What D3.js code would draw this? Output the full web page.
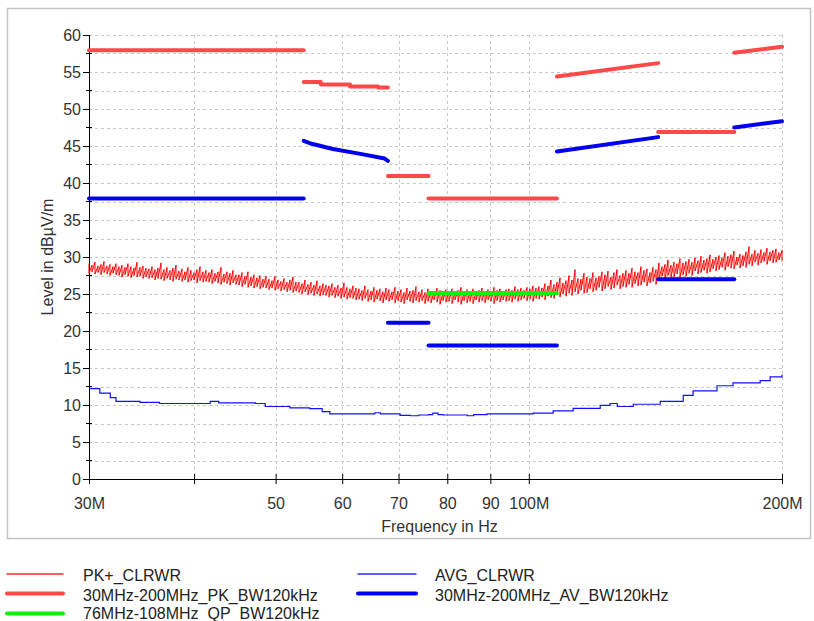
<!DOCTYPE html>
<html>
<head>
<meta charset="utf-8">
<script src="https://cdn.jsdelivr.net/npm/d3@7"></script>
<style>
  html, body { margin: 0; padding: 0; background: #ffffff; }
  svg { display: block; font-family: "Liberation Sans", Arial, sans-serif; }
</style>
</head>
<body>
<svg id="chart" width="814" height="621"></svg>
<script>
// ---------------- DATA ----------------
const xTickValues = [30, 40, 50, 60, 70, 80, 90, 100, 200];
const xTickLabels = ["30M", "", "50", "60", "70", "80", "90", "100M", "200M"];
const xGridValues = [40, 50, 60, 70, 80, 90, 100, 200];
const yTickValues = [0, 5, 10, 15, 20, 25, 30, 35, 40, 45, 50, 55, 60];
const yMinorValues = [2.5, 7.5, 12.5, 17.5, 22.5, 27.5, 32.5, 37.5, 42.5, 47.5, 52.5, 57.5];

// PK+_CLRWR sweep (30 MHz .. 200 MHz, log stepped display columns):
// max and min level (dBµV/m) seen in each column
const sweepStart = 30, sweepStop = 200;
const pkTraceHigh = [
  29.1, 28.9, 29.3, 28.8, 29.0, 29.4, 28.8, 29.0, 28.7, 29.1,
  28.7, 28.9, 28.6, 29.1, 28.7, 28.5, 29.3, 28.6, 28.8, 28.5,
  28.4, 28.7, 28.3, 28.5, 29.2, 28.3, 28.6, 28.2, 28.5, 28.9,
  28.1, 28.4, 28.0, 28.6, 28.2, 27.9, 28.3, 28.7, 28.0, 28.2,
  27.9, 28.3, 27.8, 28.0, 28.6, 27.7, 28.0, 27.8, 28.2, 27.6,
  27.6, 27.9, 27.4, 28.0, 27.3, 27.6, 27.2, 27.5, 27.0, 27.4,
  27.0, 26.8, 27.4, 26.9, 26.7, 27.1, 26.6, 26.9, 27.3, 26.6,
  26.6, 26.4, 26.9, 26.3, 26.6, 26.2, 26.8, 26.1, 26.4, 26.2,
  26.1, 26.4, 25.9, 26.2, 25.8, 26.5, 25.9, 25.7, 26.1, 25.8,
  25.7, 25.5, 26.1, 25.6, 25.4, 25.9, 25.5, 25.7, 25.3, 25.8,
  25.6, 25.3, 25.9, 25.4, 25.6, 25.2, 25.8, 25.4, 25.5, 26.0,
  25.3, 25.6, 25.2, 25.7, 25.4, 25.3, 25.8, 25.5, 25.2, 25.6,
  25.4, 25.7, 25.3, 25.5, 25.9, 25.2, 25.6, 25.4, 25.7, 25.3,
  25.5, 25.8, 25.4, 25.6, 25.3, 25.9, 25.5, 25.7, 25.4, 25.6,
  25.7, 25.5, 26.0, 25.6, 25.8, 25.5, 25.9, 25.7, 26.1, 25.8,
  26.0, 25.8, 26.4, 26.1, 26.9, 26.3, 26.6, 27.2, 26.5, 26.8,
  27.5, 26.9, 28.3, 27.1, 27.0, 27.8, 27.3, 27.1, 27.9, 27.2,
  27.4, 28.0, 27.6, 28.1, 27.3, 27.9, 28.3, 27.5, 27.8, 28.2,
  27.8, 28.5, 28.0, 27.9, 28.7, 28.2, 28.4, 27.9, 28.6, 28.3,
  29.2, 28.7, 29.0, 29.6, 28.9, 29.3, 29.1, 29.8, 29.2, 29.4,
  29.7, 29.3, 29.9, 29.5, 30.1, 29.6, 29.8, 30.3, 29.7, 30.0,
  30.2, 29.9, 30.6, 30.1, 30.3, 30.8, 30.0, 30.4, 30.2, 30.7,
  31.4, 30.4, 30.9, 30.5, 31.0, 30.6, 31.2, 30.7, 30.9, 31.1, 30.6, 30.9
];
const pkTraceLow = [
  27.8, 28.0, 27.7, 27.9, 27.6, 27.9, 27.7, 27.5, 27.8, 27.6,
  27.5, 27.3, 27.6, 27.4, 27.2, 27.5, 27.3, 27.4, 27.1, 27.3,
  27.1, 27.2, 26.9, 27.1, 27.0, 26.8, 27.1, 26.9, 26.7, 27.0,
  26.9, 26.7, 26.9, 26.6, 26.8, 26.9, 26.5, 26.8, 26.6, 26.7,
  26.6, 26.4, 26.7, 26.5, 26.3, 26.6, 26.4, 26.2, 26.5, 26.3,
  26.2, 26.0, 26.3, 25.9, 26.1, 25.8, 26.0, 25.7, 25.9, 25.8,
  25.6, 25.8, 25.5, 25.7, 25.4, 25.6, 25.3, 25.5, 25.2, 25.4,
  25.2, 25.0, 25.3, 24.9, 25.1, 24.8, 25.0, 24.7, 24.9, 24.8,
  24.6, 24.8, 24.5, 24.7, 24.4, 24.6, 24.3, 24.5, 24.4, 24.2,
  24.3, 24.1, 24.4, 24.0, 24.2, 23.9, 24.3, 24.1, 23.8, 24.2,
  24.0, 24.2, 23.8, 24.1, 23.9, 23.7, 24.2, 24.0, 23.8, 24.1,
  23.9, 24.1, 23.7, 24.0, 23.8, 24.2, 23.9, 23.6, 24.1, 23.9,
  24.0, 23.7, 24.2, 23.9, 23.6, 24.1, 23.8, 24.0, 23.7, 24.2,
  23.9, 24.1, 23.8, 24.2, 24.0, 23.7, 24.1, 23.9, 24.2, 24.0,
  24.1, 23.9, 24.3, 24.0, 24.2, 24.4, 24.1, 24.3, 24.0, 24.4,
  24.3, 24.6, 24.2, 24.7, 24.5, 24.4, 24.9, 24.6, 25.0, 24.7,
  25.1, 24.8, 25.3, 25.0, 25.5, 25.1, 25.2, 25.7, 25.3, 25.5,
  25.9, 25.4, 25.7, 26.0, 25.6, 25.8, 26.2, 25.7, 26.0, 25.9,
  26.3, 25.9, 26.4, 26.1, 26.2, 26.6, 26.1, 26.5, 26.7, 26.3,
  27.1, 27.4, 26.9, 27.5, 27.2, 27.3, 27.7, 27.2, 27.6, 27.4,
  27.8, 27.5, 28.1, 27.7, 27.9, 28.2, 27.8, 28.0, 28.4, 28.1,
  28.3, 28.6, 28.2, 28.7, 28.5, 28.4, 28.9, 28.5, 28.8, 28.6,
  29.0, 28.8, 29.3, 28.9, 29.2, 29.4, 29.0, 29.5, 29.2, 29.3, 29.6, 29.4
];

// AVG_CLRWR (stepped trace)
const avgFreqs = [30, 30.9, 31.8, 32.3, 34.5, 36.4, 40.1, 41.8, 42.8, 44.1, 47.3, 48.6, 52.0, 54.9, 56.8,
  58.0, 65.6, 66.6, 68.4, 70.3, 72.3, 74.0, 76.0, 76.9, 78.0, 79.1, 84.5, 86.0, 89.2, 101.2, 106.9,
  112.9, 121.6, 124.9, 127.4, 133.1, 143.3, 152.6, 156.8, 167.4, 174.9, 188.4, 193.6, 200];
const avgValues = [12.2, 11.6, 11.0, 10.5, 10.35, 10.2, 10.2, 10.5, 10.3, 10.3, 10.2, 9.8, 9.6, 9.5, 9.1,
  8.8, 8.95, 8.8, 8.8, 8.6, 8.55, 8.65, 8.7, 8.9, 8.7, 8.65, 8.55, 8.7, 8.8, 8.9, 9.2,
  9.55, 9.95, 10.2, 9.8, 10.1, 10.5, 11.3, 11.9, 12.6, 13.0, 13.3, 13.8, 14.1];

// 30MHz-200MHz_PK_BW120kHz limit segments [freq MHz, level]
const pkLimitSegments = [
  [[30, 57.95], [54, 57.95]],
  [[54, 53.65], [56.6, 53.65], [56.6, 53.3], [61.3, 53.3], [61.3, 53.05], [66.2, 53.05], [66.2, 52.9], [68, 52.9]],
  [[68, 40.95], [76, 40.95]],
  [[76, 37.9], [108, 37.9]],
  [[108, 54.4], [142.5, 56.2]],
  [[142.5, 46.9], [175.5, 46.9]],
  [[175.5, 57.6], [200, 58.4]]
];

// 30MHz-200MHz_AV_BW120kHz limit segments
const avLimitSegments = [
  [[30, 37.9], [54, 37.9]],
  [[54, 45.7], [55.2, 45.3], [58.5, 44.6], [63.3, 43.9], [67.4, 43.3], [68, 43.0]],
  [[68, 21.1], [76, 21.1]],
  [[76, 18.05], [108, 18.05]],
  [[108, 44.25], [142.5, 46.2]],
  [[142.5, 27.0], [175.5, 27.0]],
  [[175.5, 47.5], [200, 48.35]]
];

// 76MHz-108MHz_QP_BW120kHz
const qpSegments = [
  [[76, 25.15], [108, 25.15]]
];

const legendItems = [
  { label: "PK+_CLRWR", color: "#ff2a2a", width: 1.5, col: 0, row: 0 },
  { label: "30MHz-200MHz_PK_BW120kHz", color: "#ff4848", width: 4, col: 0, row: 1 },
  { label: "76MHz-108MHz_QP_BW120kHz", color: "#11ee11", width: 4, col: 0, row: 2 },
  { label: "AVG_CLRWR", color: "#2a2aff", width: 1.5, col: 1, row: 0 },
  { label: "30MHz-200MHz_AV_BW120kHz", color: "#0000ee", width: 4, col: 1, row: 1 }
];

// ---------------- DRAW ----------------
const svg = d3.select("#chart");
const pL = 89, pR = 782, pT = 35, pB = 479;

const x = d3.scaleLog().domain([30, 200]).range([pL, pR]);
const y = d3.scaleLinear().domain([0, 60]).range([pB, pT]);

// outer frame
svg.append("rect").attr("x", 7.5).attr("y", 8.5).attr("width", 803).attr("height", 530)
  .attr("fill", "#fff").attr("stroke", "#c4c4c4").attr("stroke-width", 1.5);

// grid
const grid = svg.append("g").attr("stroke", "#c8c8c8").attr("stroke-width", 1)
  .attr("stroke-dasharray", "3,3").attr("fill", "none");
grid.selectAll("line.h").data(yTickValues.concat(yMinorValues).filter(v => v > 0)).join("line")
  .attr("class", "h")
  .attr("x1", pL).attr("x2", pR)
  .attr("y1", d => Math.round(y(d)) + 0.5).attr("y2", d => Math.round(y(d)) + 0.5);
grid.selectAll("line.v").data(xGridValues).join("line")
  .attr("class", "v")
  .attr("x1", d => Math.round(x(d)) + 0.5).attr("x2", d => Math.round(x(d)) + 0.5)
  .attr("y1", pT).attr("y2", pB);

// axes
const xAxis = d3.axisBottom(x).tickValues(xTickValues)
  .tickFormat((d, i) => xTickLabels[i]).tickSizeInner(5).tickSizeOuter(0).tickPadding(14);
const gx = svg.append("g").attr("transform", `translate(0,${pB})`).call(xAxis);
gx.select(".domain").attr("stroke", "#000").attr("d", `M${pL},0.5H${pR}`);
gx.selectAll(".tick line").attr("stroke", "#000").attr("y1", -5).attr("y2", 5);
gx.selectAll(".tick text").attr("fill", "#333").style("font-size", "16px")
  .style("font-family", "'Liberation Sans', Arial, sans-serif");

const yAxis = d3.axisLeft(y).tickValues(yTickValues).tickFormat(d3.format("d"))
  .tickSizeInner(6).tickSizeOuter(0).tickPadding(2);
const gy = svg.append("g").attr("transform", `translate(${pL},0)`).call(yAxis);
gy.select(".domain").attr("stroke", "#000").attr("d", `M0.5,${pT}V${pB}`);
gy.selectAll(".tick line").attr("stroke", "#000").attr("x1", 1);
gy.selectAll(".tick text").attr("fill", "#333").style("font-size", "16px")
  .style("font-family", "'Liberation Sans', Arial, sans-serif");
gy.selectAll("line.minor").data(yMinorValues).join("line").attr("class", "minor")
  .attr("stroke", "#000").attr("x1", -3).attr("x2", 3)
  .attr("y1", d => y(d)).attr("y2", d => y(d));

// axis titles
svg.append("text").attr("x", (pL + pR) / 2 + 4).attr("y", 532)
  .attr("text-anchor", "middle").attr("fill", "#333").style("font-size", "16px")
  .text("Frequency in Hz");
svg.append("text").attr("transform", `translate(53,${(pT + pB) / 2}) rotate(-90)`)
  .attr("text-anchor", "middle").attr("fill", "#333").style("font-size", "16px")
  .text("Level in dBµV/m");

const line = d3.line().x(d => x(d[0])).y(d => y(d[1]));
const stepLine = d3.line().x(d => x(d[0])).y(d => y(d[1])).curve(d3.curveStepAfter);
const plot = svg.append("g");

// AVG_CLRWR thin trace
const avgPts = avgFreqs.map((f, i) => [f, avgValues[i]]);
plot.append("path").datum(avgPts).attr("fill", "none").attr("stroke", "#1010ff")
  .attr("stroke-width", 1.2).attr("d", stepLine);

// PK+_CLRWR thin noisy trace: each display column drawn from its max to its min
const nCols = pkTraceHigh.length;
const pkPts = [];
pkTraceHigh.forEach((hi, i) => {
  const f = sweepStart * Math.pow(sweepStop / sweepStart, i / (nCols - 1));
  pkPts.push([f, hi], [f, pkTraceLow[i]]);
});
plot.append("path").datum(pkPts).attr("fill", "none").attr("stroke", "#ff0000")
  .attr("stroke-width", 1).attr("stroke-linejoin", "miter").attr("d", line);

// limit lines
function drawSegs(segs, color) {
  plot.append("g").selectAll("path").data(segs).join("path")
    .attr("fill", "none").attr("stroke", color).attr("stroke-width", 4)
    .attr("stroke-linecap", "round").attr("stroke-linejoin", "round")
    .attr("d", line);
}
drawSegs(pkLimitSegments, "#ff4848");
drawSegs(qpSegments, "#11ee11");
drawSegs(avLimitSegments, "#0000ee");

// legend
const colX = [[7, 63, 83], [358, 416, 435]];
const rowLineY = [574, 593.5, 613.5];
const rowTextY = [581, 600.5, 619];
const lg = svg.append("g");
legendItems.forEach(it => {
  const c = colX[it.col];
  lg.append("line").attr("x1", c[0]).attr("x2", c[1])
    .attr("y1", rowLineY[it.row]).attr("y2", rowLineY[it.row])
    .attr("stroke", it.color).attr("stroke-width", it.width).attr("stroke-linecap", "round");
  lg.append("text").attr("x", c[2]).attr("y", rowTextY[it.row])
    .attr("fill", "#222").style("font-size", "16px").text(it.label);
});
</script>
</body>
</html>
